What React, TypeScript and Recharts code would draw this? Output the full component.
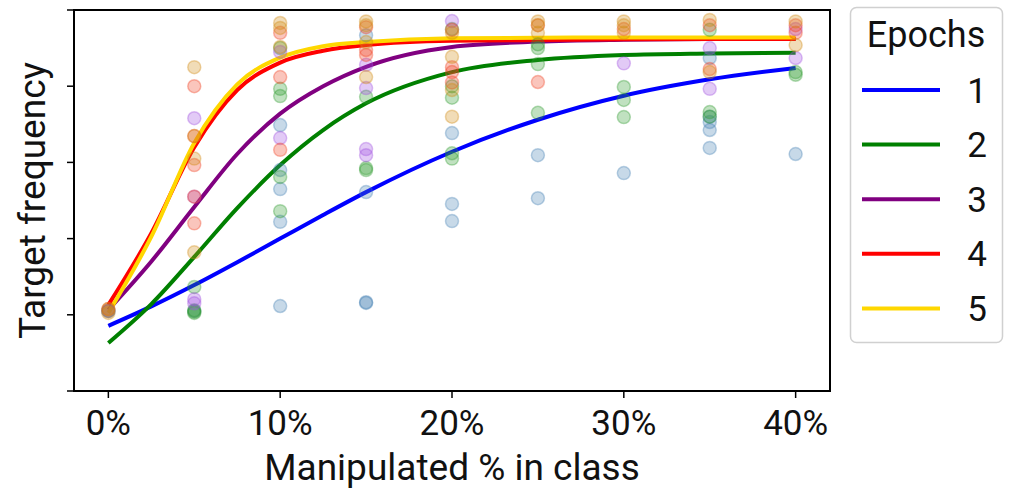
import { ComposedChart, Line, Scatter, XAxis, YAxis, ReferenceArea } from 'recharts';

// epochs shown in the legend, with line colours and (lighter) point colours
const epochs = ['1', '2', '3', '4', '5'];
const lineColors = ['#0000ff', '#008000', '#800080', '#ff0000', '#ffd700'];
const dotColors = ['#4682b4', '#2e9a2e', '#a050e0', '#f04020', '#d08a10'];

// fitted curves at these x positions (% manipulated)
const fitX = [0, 2.5, 5, 7.5, 10, 12.5, 15, 20, 25, 30, 35, 40];
const fit1 = [0.171, 0.222, 0.278, 0.338, 0.4, 0.462, 0.522, 0.628, 0.712, 0.775, 0.818, 0.848];
const fit2 = [0.126, 0.228, 0.352, 0.48, 0.593, 0.685, 0.755, 0.837, 0.869, 0.882, 0.886, 0.888];
const fit3 = [0.213, 0.34, 0.483, 0.622, 0.728, 0.8, 0.851, 0.903, 0.917, 0.922, 0.924, 0.924];
const fit4 = [0.226, 0.414, 0.64, 0.79, 0.862, 0.893, 0.908, 0.919, 0.921, 0.923, 0.924, 0.924];
const fit5 = [0.205, 0.405, 0.651, 0.805, 0.875, 0.905, 0.916, 0.926, 0.927, 0.928, 0.928, 0.928];

// observed runs: [x, target frequency]
const obs1 = [
  [0, 0.21], [5, 0.21],
  [10, 0.698], [10, 0.58], [10, 0.53], [10, 0.444], [10, 0.223],
  [15, 0.934], [15, 0.522], [15, 0.231], [15, 0.233],
  [20, 0.677], [20, 0.491], [20, 0.446],
  [25, 0.619], [25, 0.506],
  [30, 0.572],
  [35, 0.874], [35, 0.72], [35, 0.706], [35, 0.685], [35, 0.638],
  [40, 0.622],
];
const obs2 = [
  [0, 0.21],
  [5, 0.273], [5, 0.212], [5, 0.205], [5, 0.208],
  [10, 0.9], [10, 0.793], [10, 0.774], [10, 0.562], [10, 0.472],
  [15, 0.772], [15, 0.58], [15, 0.585],
  [20, 0.95], [20, 0.8], [20, 0.77], [20, 0.624], [20, 0.61],
  [25, 0.91], [25, 0.9], [25, 0.858], [25, 0.73],
  [30, 0.798], [30, 0.764], [30, 0.719],
  [35, 0.948], [35, 0.732], [35, 0.72],
  [40, 0.837], [40, 0.83],
];
const obs3 = [
  [0, 0.21],
  [5, 0.716], [5, 0.51], [5, 0.241], [5, 0.23],
  [10, 0.89], [10, 0.664],
  [15, 0.856], [15, 0.795], [15, 0.635], [15, 0.619],
  [20, 0.971],
  [30, 0.86],
  [35, 0.9], [35, 0.793],
  [40, 0.95], [40, 0.874],
];
const obs4 = [
  [0, 0.215],
  [5, 0.8], [5, 0.669], [5, 0.593], [5, 0.51], [5, 0.44],
  [10, 0.94], [10, 0.824], [10, 0.633],
  [15, 0.955], [15, 0.895], [15, 0.882],
  [20, 0.948], [20, 0.85], [20, 0.837], [20, 0.81],
  [25, 0.96], [25, 0.811],
  [30, 0.95],
  [35, 0.96], [35, 0.845],
  [40, 0.96], [40, 0.94],
];
const obs5 = [
  [0, 0.205], [0, 0.215],
  [5, 0.85], [5, 0.669], [5, 0.61], [5, 0.364],
  [10, 0.966], [10, 0.953], [10, 0.903],
  [15, 0.97], [15, 0.96], [15, 0.916], [15, 0.824],
  [20, 0.94], [20, 0.877], [20, 0.79], [20, 0.72],
  [25, 0.97], [25, 0.96], [25, 0.94],
  [30, 0.97], [30, 0.96], [30, 0.94],
  [35, 0.974], [35, 0.837],
  [40, 0.97], [40, 0.908],
];

const xTicks = [0, 10, 20, 30, 40];
const yTicks = [0, 0.2, 0.4, 0.6, 0.8, 1];

const fits = [fit1, fit2, fit3, fit4, fit5].map((f) => f.map((y, i) => ({ x: fitX[i], y })));
const obs = [obs1, obs2, obs3, obs4, obs5].map((o) => o.map(([x, y]) => ({ x, y })));

const font = 'Roboto, sans-serif';

function Dot(props: any) {
  const { cx, cy, fill } = props;
  return (
    <circle cx={cx} cy={cy} r={6.5} fill={fill} fillOpacity={0.3} stroke={fill} strokeOpacity={0.35} strokeWidth={1.5} />
  );
}

function EpochLegend() {
  return (
    <svg width={1017} height={489} style={{ position: 'absolute', left: 0, top: 0, pointerEvents: 'none' }}>
      <rect x={850.5} y={7.5} width={152} height={335} rx={6} fill="#fff" fillOpacity={0.8} stroke="#d0d0d0" strokeWidth={1.5} />
      <text x={926} y={47} textAnchor="middle" fontSize={36} fontFamily={font} fill="#111">
        Epochs
      </text>
      {epochs.map((e, i) => {
        const y = 90 + i * 54.6;
        return (
          <g key={e}>
            <line x1={862} x2={940} y1={y} y2={y} stroke={lineColors[i]} strokeWidth={4} />
            <text x={977} y={y + 12.5} textAnchor="middle" fontSize={35} fontFamily={font} fill="#111">
              {e}
            </text>
          </g>
        );
      })}
    </svg>
  );
}

export default function App() {
  return (
    <div style={{ position: 'absolute', left: 0, top: 0, width: 1017, height: 489, background: '#fff', fontFamily: font }}>
      <ComposedChart width={1017} height={489} margin={{ top: 10, right: 187, left: 0, bottom: 0 }}>
        <XAxis
          dataKey="x"
          type="number"
          domain={[-2, 42]}
          ticks={xTicks}
          tickFormatter={(v) => `${v}%`}
          tickSize={7}
          tickMargin={12}
          height={98}
          stroke="#000"
          axisLine={false}
          tickLine={{ stroke: '#000', strokeWidth: 1.5 }}
          tick={{ fill: '#111', fontSize: 35, fontFamily: font }}
          label={{ value: 'Manipulated % in class', position: 'insideBottom', offset: 9, fill: '#111', fontSize: 37, fontFamily: font }}
        />
        <YAxis
          type="number"
          domain={[0, 1]}
          ticks={yTicks}
          tickFormatter={() => ''}
          width={74}
          tickSize={7}
          stroke="#000"
          axisLine={false}
          tickLine={{ stroke: '#000', strokeWidth: 1.5 }}
          label={({ viewBox }: any) => {
            const x = viewBox.x + 45;
            const y = viewBox.y + viewBox.height / 2;
            return (
              <text x={x} y={y} transform={`rotate(-90 ${x} ${y})`} textAnchor="middle" fill="#111" fontSize={37} fontFamily={font}>
                Target frequency
              </text>
            );
          }}
        />
        <ReferenceArea x1={-2} x2={42} y1={0} y2={1} fill="none" stroke="#000" strokeWidth={2} ifOverflow="visible" />
        {fits.map((d, i) => (
          <Line
            key={`fit${i}`}
            data={d}
            dataKey="y"
            type="monotone"
            stroke={lineColors[i]}
            strokeWidth={4}
            dot={false}
            activeDot={false}
            isAnimationActive={false}
          />
        ))}
        {obs.map((d, i) => (
          <Scatter key={`obs${i}`} data={d} dataKey="y" fill={dotColors[i]} shape={<Dot />} isAnimationActive={false} />
        ))}
      </ComposedChart>
      <EpochLegend />
    </div>
  );
}
